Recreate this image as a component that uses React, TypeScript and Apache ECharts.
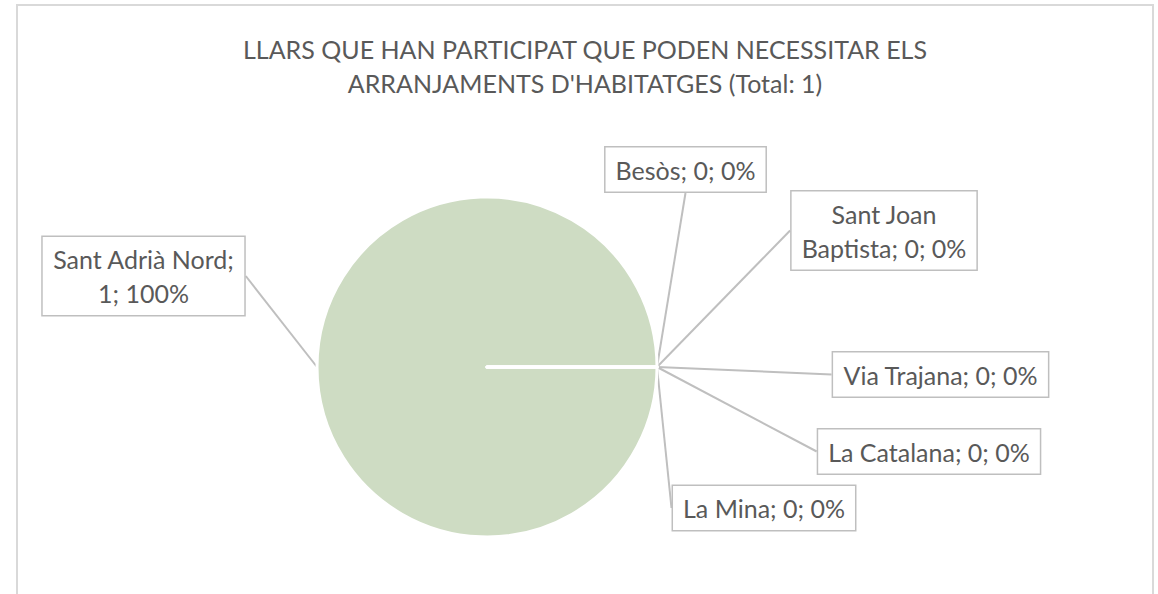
import React, { useEffect, useRef } from "react";
import * as echarts from "echarts";

const titleLines = [
  "LLARS QUE HAN PARTICIPAT QUE PODEN NECESSITAR ELS",
  "ARRANJAMENTS D'HABITATGES (Total: 1)",
];
const categories = [
  "Sant Adrià Nord",
  "Besòs",
  "Sant Joan Baptista",
  "Via Trajana",
  "La Catalana",
  "La Mina",
];
const values = [1, 0, 0, 0, 0, 0];
// label text templates (line breaks as in the reference)
const labelTemplates = [
  "Sant Adrià Nord;\n{c}; {d}%",
  "Besòs; {c}; {d}%",
  "Sant Joan\nBaptista; {c}; {d}%",
  "Via Trajana; {c}; {d}%",
  "La Catalana; {c}; {d}%",
  "La Mina; {c}; {d}%",
];
// label box centres (layout)
const labelCenters: [number, number][] = [
  [143.5, 276],
  [685.5, 169.5],
  [884, 230.5],
  [940.5, 374.5],
  [929, 451.5],
  [764, 508],
];

const FONT = "Lato, 'Open Sans', sans-serif";
const GREY_TEXT = "#595959";
const GREY_LINE = "#bfbfbf";

export default function App() {
  const ref = useRef<HTMLDivElement>(null);
  useEffect(() => {
    if (!ref.current) return;
    const chart = echarts.init(ref.current, undefined, { renderer: "svg" });
    chart.setOption({
      animation: false,
      backgroundColor: "#ffffff",
      title: {
        text: titleLines.join("\n"),
        left: 580,
        top: 27,
        textAlign: "center",
        textStyle: {
          fontFamily: FONT,
          fontSize: 25,
          fontWeight: "normal",
          color: GREY_TEXT,
          lineHeight: 34,
        },
      },
      graphic: [
        {
          type: "rect",
          shape: { x: 17, y: 5, width: 1136, height: 640 },
          style: { fill: "none", stroke: "#d9d9d9", lineWidth: 2 },
          silent: true,
        },
      ],
      series: [
        {
          type: "pie",
          center: [487, 367],
          radius: 170,
          startAngle: 0,
          clockwise: true,
          avoidLabelOverlap: false,
          itemStyle: { color: "#cedcc3", borderColor: "#ffffff", borderWidth: 3 },
          label: {
            show: true,
            fontFamily: FONT,
            fontSize: 25,
            color: GREY_TEXT,
            lineHeight: 34,
            backgroundColor: "#ffffff",
            borderColor: GREY_LINE,
            borderWidth: 1.5,
            padding: [5, 10],
            align: "center",
          },
          labelLine: {
            show: true,
            length: 0,
            length2: 0,
            lineStyle: { color: GREY_LINE, width: 2 },
          },
          labelLayout: (params: any) => {
            const c = labelCenters[params.dataIndex];
            return { x: c[0], y: c[1], align: "center", verticalAlign: "middle" };
          },
          emphasis: { disabled: true },
          data: categories.map((name, i) => ({
            name,
            value: values[i],
            label: { formatter: labelTemplates[i] },
          })),
        },
      ],
    });
    return () => chart.dispose();
  }, []);
  return (
    <div
      ref={ref}
      style={{ position: "fixed", left: 0, top: 0, width: 1158, height: 594 }}
    />
  );
}
